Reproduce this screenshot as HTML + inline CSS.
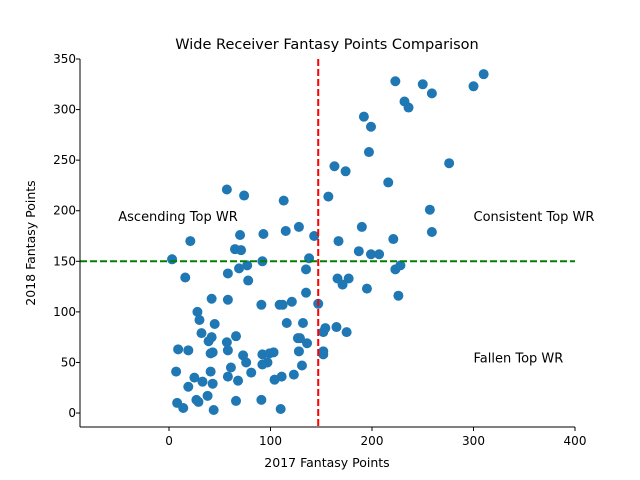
<!DOCTYPE html>
<html><head><meta charset="utf-8"><style>
body{margin:0;background:#fff}
svg{display:block;font-family:"DejaVu Sans","Liberation Sans",sans-serif}
</style></head><body>
<svg id="chart" width="640" height="480"></svg>
<script>
const xVals=[223,250,259,310,300,232,236,192,199,197,163,174,276,216,157,257,259,190,221,167,143,187,199,207,138,223,228,135,166,177,171,195,226,135,147,132,154,152,165,175,136,129,152,152,131,
57,74,113,21,70,93,115,128,65,71,3,92,77,69,58,16,78,42,58,28,30,91,109,112,121,45,116,32,42,39,66,57,127,9,19,58,43,41,73,92,99,103,128,76,97,92,7,41,61,58,81,123,111,104,25,33,43,68,19,38,27,29,8,14,44,66,91,110];
const yVals=[328,325,316,335,323,308,302,293,283,258,244,239,247,228,214,201,179,184,172,170,175,160,157,157,153,142,146,142,133,133,127,123,116,119,108,89,84,80,85,80,69,74,61,58,47,
221,215,210,170,176,177,180,184,162,161,152,150,146,143,138,134,131,113,112,100,92,107,107,107,110,88,89,79,75,71,76,70,74,63,62,62,60,59,57,58,59,60,61,50,50,48,41,41,45,36,40,38,36,33,35,31,29,32,26,17,13,11,10,5,3,12,13,4];
const xTicks=[0,100,200,300,400];
const yTicks=[0,50,100,150,200,250,300,350];
const vLine=147, hLine=150;
const L=80,R=575,T=59,B=427;
const xMin=-87.7,xMax=400,yMin=-13.8,yMax=350;
const sx=v=>L+(v-xMin)/(xMax-xMin)*(R-L);
const sy=v=>B-(v-yMin)/(yMax-yMin)*(B-T);
const svg=document.getElementById('chart');
const NS='http://www.w3.org/2000/svg';
function mk(t,a,txt){const e=document.createElementNS(NS,t);for(const k in a)e.setAttribute(k,a[k]);if(txt!=null)e.textContent=txt;svg.appendChild(e);return e;}
let e;
for(let i=0;i<xVals.length;i++){
 e=mk('circle',{cx:sx(xVals[i]),cy:sy(yVals[i]),r:5,fill:'#1f77b4'});
 
 
}
e=mk('line',{x1:sx(vLine),x2:sx(vLine),y1:T,y2:B,stroke:'#ff0000','stroke-width':2,'stroke-dasharray':'7,3'});


e=mk('line',{x1:L,x2:R,y1:sy(hLine),y2:sy(hLine),stroke:'#008000','stroke-width':2,'stroke-dasharray':'7,3'});


e=mk('line',{x1:L,x2:L,y1:T,y2:B,stroke:'#000','stroke-width':1});


e=mk('line',{x1:L,x2:R,y1:B,y2:B,stroke:'#000','stroke-width':1});


xTicks.forEach(v=>{
 e=mk('line',{x1:sx(v),x2:sx(v),y1:B,y2:B+4,stroke:'#000'});
 
 
 e=mk('text',{x:sx(v),y:B+18,'text-anchor':'middle','font-size':12},v);
 
 
});
yTicks.forEach(v=>{
 e=mk('line',{x1:L-4,x2:L,y1:sy(v),y2:sy(v),stroke:'#000'});
 
 
 e=mk('text',{x:L-4,y:sy(v)+4,'text-anchor':'end','font-size':12},v);
 
 
});
e=mk('text',{x:327,y:49,'text-anchor':'middle','font-size':14.5},'Wide Receiver Fantasy Points Comparison');


e=mk('text',{x:327,y:467,'text-anchor':'middle','font-size':12.5},'2017 Fantasy Points');


e=mk('text',{x:35,y:243,'text-anchor':'middle','font-size':12.5,transform:'rotate(-90 35 243)'},'2018 Fantasy Points');


e=mk('text',{x:sx(-50),y:sy(190),'font-size':13},'Ascending Top WR');


e=mk('text',{x:sx(300),y:sy(190),'font-size':13},'Consistent Top WR');


e=mk('text',{x:sx(300),y:sy(50),'font-size':13},'Fallen Top WR');


</script>
</body></html>
